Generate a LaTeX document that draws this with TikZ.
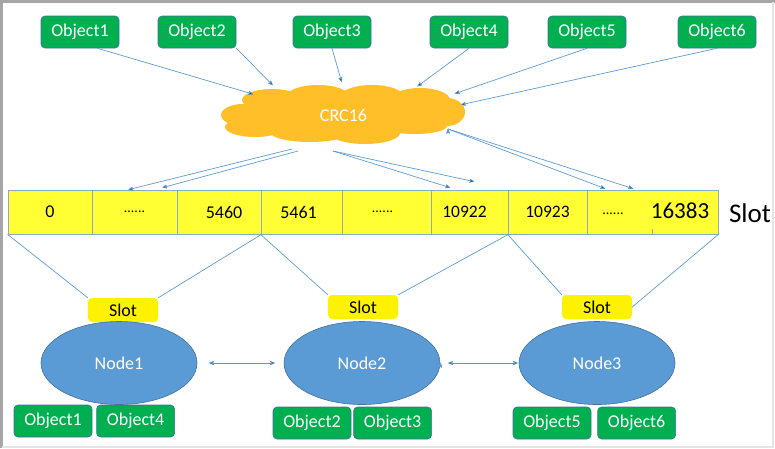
\documentclass[tikz,border=0pt]{standalone}
\usepackage{fontspec}
\setmainfont{Carlito}
\usetikzlibrary{arrows,shapes.geometric,positioning}
\definecolor{objgreen}{RGB}{0,176,80}
\definecolor{objedge}{RGB}{65,113,156}
\definecolor{crcorange}{RGB}{255,191,41}
\definecolor{nodeblue}{RGB}{91,155,213}
\definecolor{nodeedge}{RGB}{65,113,156}
\definecolor{baryellow}{RGB}{255,255,51}
\definecolor{baredge}{RGB}{140,170,200}
\definecolor{linkblue}{RGB}{91,155,213}

\begin{document}
\begin{tikzpicture}[x=1pt,y=-1pt,>=stealth',font=\fontsize{18}{21}\selectfont]
		\tikzstyle{object}=[rectangle,rounded corners=4pt,fill=objgreen,draw=objedge,line width=0.6pt,text=white,minimum width=78pt,minimum height=32pt,inner sep=0pt]
		\tikzstyle{cell}=[rectangle,fill=baryellow,draw=baredge,line width=0.8pt,minimum height=44pt,inner sep=0pt]
		\tikzstyle{slotbox}=[rectangle,rounded corners=4pt,fill=yellow,minimum width=70pt,minimum height=24pt,inner sep=0pt]
		\tikzstyle{server}=[ellipse,fill=nodeblue,draw=nodeedge,line width=0.6pt,text=white,minimum width=156pt,minimum height=83pt]
		\tikzstyle{link}=[draw=linkblue,line width=0.7pt]
		\useasboundingbox (0,0) rectangle (775,448);
		% frame of the screenshot
		\draw[gray!70,line width=3pt] (1.5,448) -- (1.5,1.5) -- (775,1.5);
		\draw[gray!20,line width=2pt] (772.5,1.5) -- (772.5,446.5) -- (1.5,446.5);
		% objects on top
		\node[object] (ob1) at (80,32) {Object1};
		\node[object] (ob2) at (197,32) {Object2};
		\node[object] (ob3) at (332,32) {Object3};
		\node[object] (ob4) at (469,32) {Object4};
		\node[object] (ob5) at (587,32) {Object5};
		\node[object] (ob6) at (717,32) {Object6};
		% the hash cloud, built from puffs, with the text on an ellipse
		\fill[crcorange] (343,115) ellipse [x radius=105,y radius=22]
			(272,100) ellipse [x radius=30,y radius=11]
			(318,97) ellipse [x radius=32,y radius=12]
			(372,97) ellipse [x radius=32,y radius=12]
			(420,100) ellipse [x radius=30,y radius=12]
			(447,112) ellipse [x radius=18,y radius=14]
			(243,115) ellipse [x radius=22,y radius=11]
			(255,127) ellipse [x radius=30,y radius=10]
			(310,132) ellipse [x radius=40,y radius=10]
			(365,133) ellipse [x radius=35,y radius=11]
			(415,126) ellipse [x radius=32,y radius=8];
		\node[ellipse,text=white,minimum width=250pt,minimum height=60pt,inner sep=0pt] (crc) at (343.5,115) {CRC16};
		% slot bar
		\node[cell,minimum width=84pt] (c1) at (50,212) {0};
		\node[cell,minimum width=85pt] (c2) at (134.5,212) {\fontsize{14}{16}\selectfont ......};
		\node[cell,minimum width=84pt] (c3) at (219,212) {\hspace*{10pt}5460};
		\node[cell,minimum width=81pt] (c4) at (301.5,212) {\raisebox{-3pt}{5461}\hspace*{6pt}};
		\node[cell,minimum width=89pt] (c5) at (386.5,212) {\fontsize{14}{16}\selectfont ......\hspace*{8pt}};
		\node[cell,minimum width=77pt] (c6) at (469.5,212) {\fontsize{17.5}{20}\selectfont \raisebox{-5pt}{10922}\hspace*{10pt}};
		\node[cell,minimum width=79pt] (c7) at (547.5,212) {\fontsize{17.5}{20}\selectfont \raisebox{-5pt}{10923}};
		\node[cell,minimum width=131pt] (c8) at (652.5,212) {};
		\node (dots) at (613,214) {\fontsize{14}{16}\selectfont ......};
		\node (last) at (680,211) {\fontsize{23}{26}\selectfont 16383};
		\draw[baredge,line width=0.8pt] (c8.south) -- ++(0,-5);
		\node (slotlbl) at (750,213) {\fontsize{27}{30}\selectfont Slot};
		% nodes with their slots and objects
		\node[slotbox] (s1) at (123,310) {Slot};
		\node[slotbox] (s2) at (363,307) {Slot};
		\node[slotbox] (s3) at (597,307) {Slot};
		\node[server] (n1) at (119,363) {Node1};
		\node[server] (n2) at (362,363) {Node2};
		\node[server] (n3) at (597,363) {Node3};
		\node[object] (b1) at (53,421) {Object1};
		\node[object] (b4) [right=4pt of b1] {Object4};
		\node[object] (b2) at (312,423) {Object2};
		\node[object] (b3) [right=2pt of b2] {Object3};
		\node[object] (b5) at (552,423) {Object5};
		\node[object] (b6) [right=6pt of b5] {Object6};
		\path[->,link]
		(ob1.-43) edge (crc.167.7)
		(ob2.south east) edge[shorten >=6pt] (crc.159.4)
		(ob3.south) edge[shorten >=3pt] (crc.92)
		(ob4.south) edge[shorten >=6pt] (crc.20.6)
		(ob5.south) edge[shorten >=11pt] (crc.10.5)
		(ob6.south) edge (crc.5.2)
		([shift={(-51.5,34)}]crc.center) edge ([xshift=-6pt]c2.north)
		([shift={(-45.5,36)}]crc.center) edge ([xshift=28pt,yshift=2pt]c2.north)
		([shift={(-10.5,36)}]crc.center) edge ([xshift=-19.5pt,yshift=2pt]c6.north)
		([shift={(-10.5,36)}]crc.center) edge ([xshift=4.5pt,yshift=8pt]c6.north)
		([shift={(104.5,14)}]crc.center) edge ([xshift=-47.5pt,yshift=1pt]c8.north)
		([shift={(104.5,14)}]crc.center) edge ([xshift=-19.5pt,yshift=1pt]c8.north);
		\path[link]
		(c1.south west) edge (s1.north west)
		(c3.south east) edge (s1.north east)
		(c4.south west) edge (s2.north west)
		(c6.south east) edge (s2.north east)
		(c7.south west) edge (s3.north west)
		(c8.south east) edge (s3.east);
		\path[<->,link]
		(n1.east) edge[shorten <=12pt,shorten >=9pt] (n2.west)
		(n2.east) edge[shorten <=8pt,shorten >=1pt] (n3.west);
\end{tikzpicture}
\end{document}
